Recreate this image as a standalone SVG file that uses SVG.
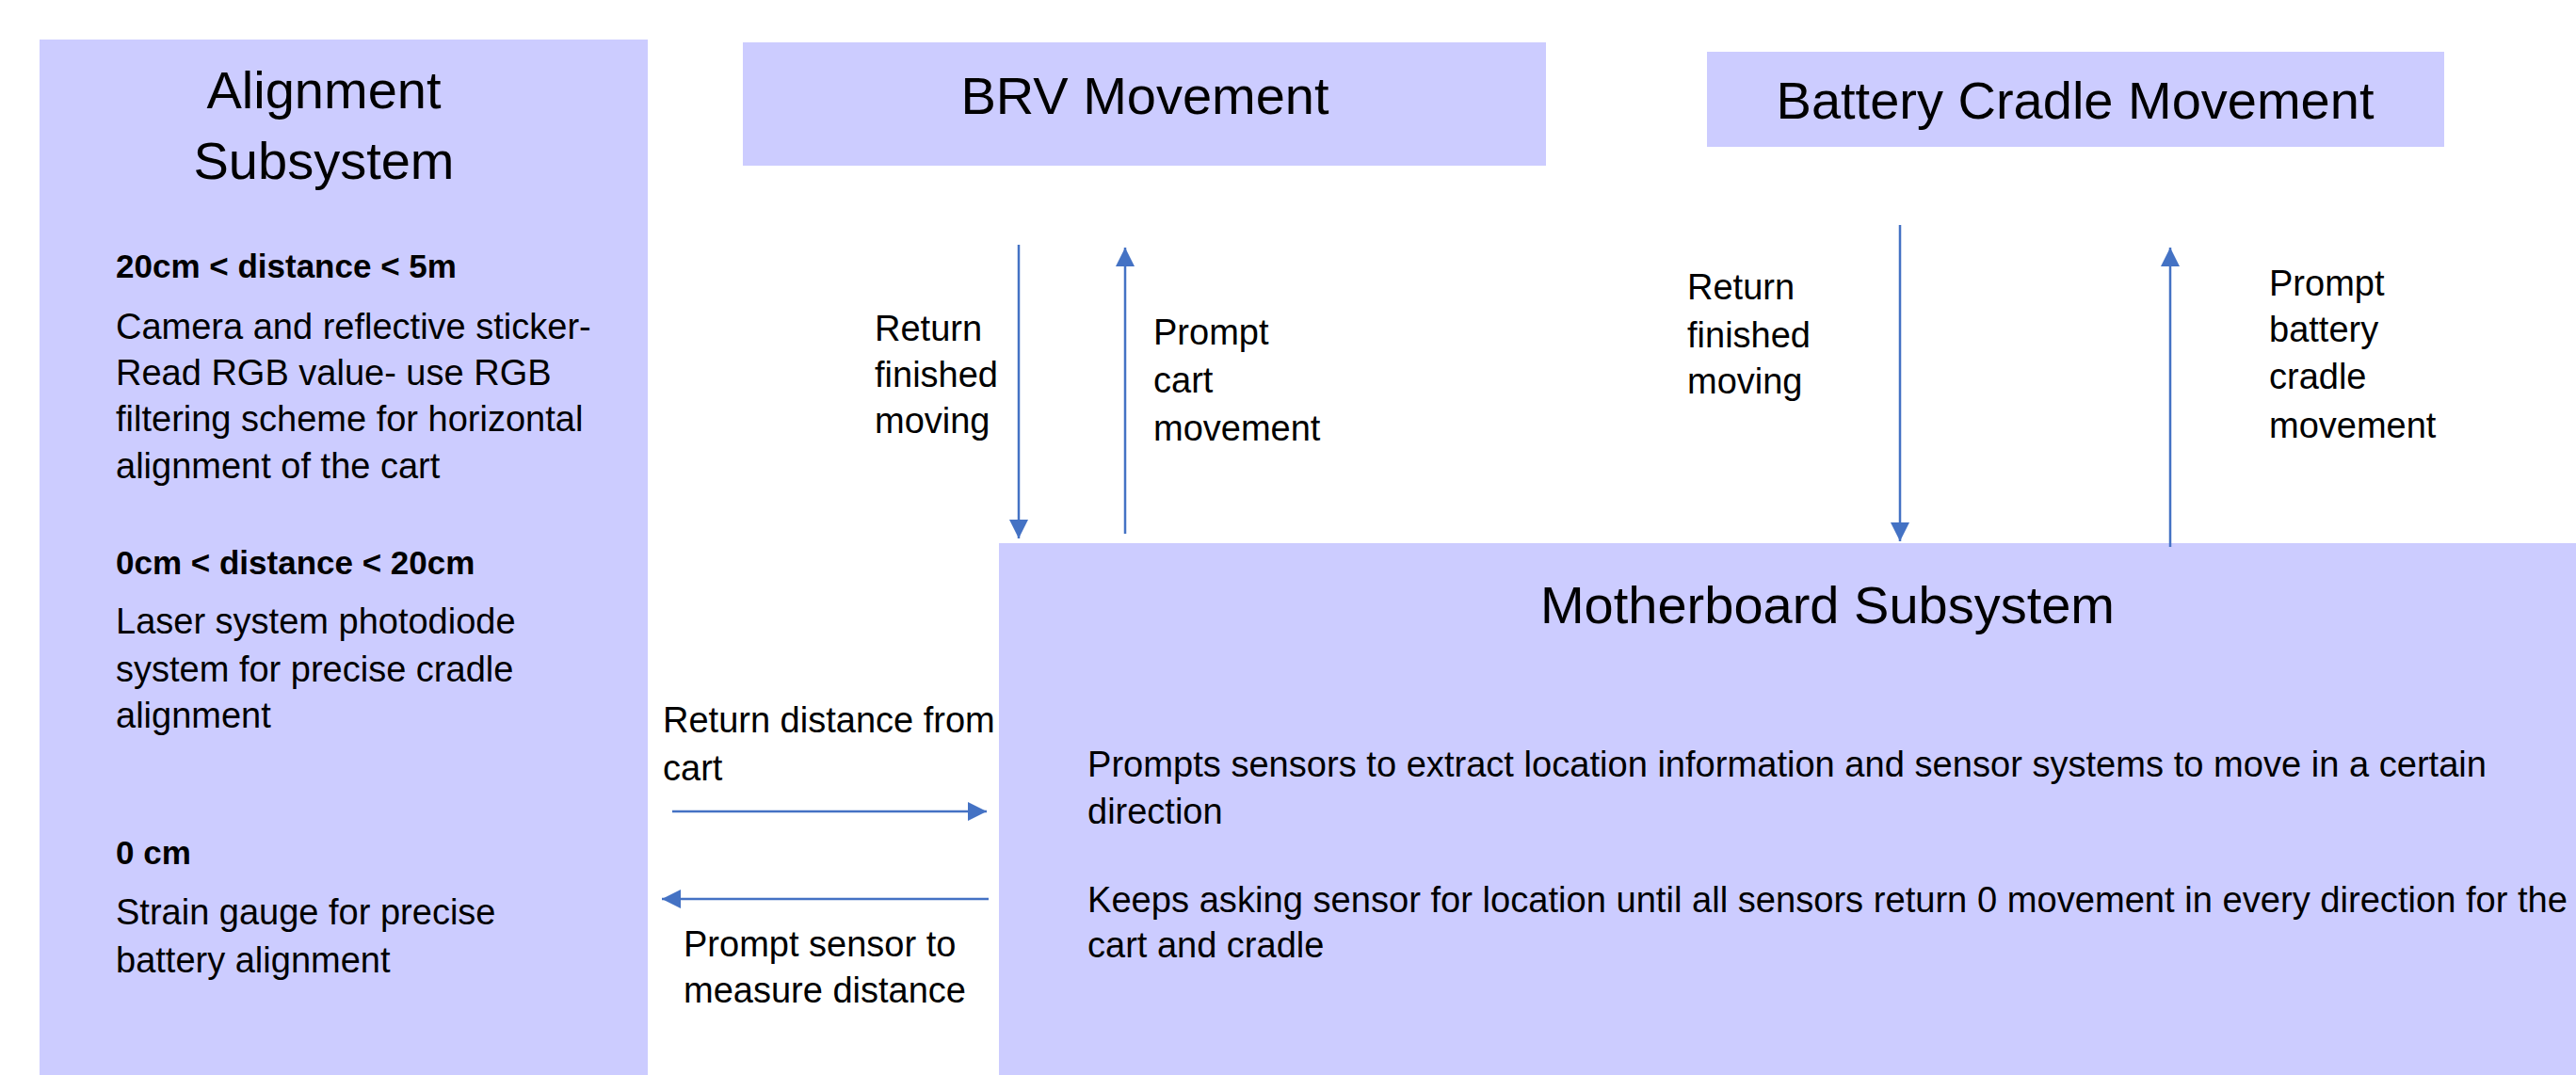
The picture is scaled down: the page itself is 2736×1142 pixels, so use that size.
<svg xmlns="http://www.w3.org/2000/svg" width="2736" height="1142" viewBox="0 0 2736 1142">
<defs>
<style>
.box{fill:#CCCCFF;}
.title{font-family:"Liberation Sans","Open Sans",sans-serif;font-size:56px;fill:#000;text-anchor:middle;}
.body{font-family:"Liberation Sans","Open Sans",sans-serif;font-size:38px;fill:#000;}
.bold{font-weight:bold;font-size:35px;}
.conn{stroke:#4472C4;stroke-width:2.5;fill:none;}
</style>
<marker id="ah" viewBox="0 0 10 10" refX="10" refY="5" markerUnits="userSpaceOnUse" markerWidth="20" markerHeight="21" orient="auto">
<path d="M0,0 L10,5 L0,10 Z" fill="#4472C4"/>
</marker>
</defs>
<rect width="2736" height="1142" fill="#FFFFFF"/>

<g id="alignment-subsystem">
<rect class="box" x="42" y="42" width="646" height="1100"/>
<text class="title" x="344" y="115">Alignment</text>
<text class="title" x="344" y="190">Subsystem</text>
<text class="body bold" x="123" y="295">20cm &lt; distance &lt; 5m</text>
<text class="body" x="123" y="360">Camera and reflective sticker-</text>
<text class="body" x="123" y="409">Read RGB value- use RGB</text>
<text class="body" x="123" y="458">filtering scheme for horizontal</text>
<text class="body" x="123" y="508">alignment of the cart</text>
<text class="body bold" x="123" y="610">0cm &lt; distance &lt; 20cm</text>
<text class="body" x="123" y="673">Laser system photodiode</text>
<text class="body" x="123" y="724">system for precise cradle</text>
<text class="body" x="123" y="773">alignment</text>
<text class="body bold" x="123" y="918">0 cm</text>
<text class="body" x="123" y="982">Strain gauge for precise</text>
<text class="body" x="123" y="1033">battery alignment</text>
</g>

<g id="brv-movement">
<rect class="box" x="789" y="45" width="853" height="131"/>
<text class="title" x="1216" y="121">BRV Movement</text>
</g>

<g id="battery-cradle-movement">
<rect class="box" x="1813" y="55" width="783" height="101"/>
<text class="title" x="2204" y="126">Battery Cradle Movement</text>
</g>

<g id="motherboard-subsystem">
<rect class="box" x="1061" y="577" width="1675" height="565"/>
<text class="title" x="1941" y="662">Motherboard Subsystem</text>
<text class="body" x="1155" y="825" textLength="1486" lengthAdjust="spacingAndGlyphs">Prompts sensors to extract location information and sensor systems to move in a certain</text>
<text class="body" x="1155" y="875">direction</text>
<text class="body" x="1155" y="969" textLength="1572" lengthAdjust="spacingAndGlyphs">Keeps asking sensor for location until all sensors return 0 movement in every direction for the</text>
<text class="body" x="1155" y="1017">cart and cradle</text>
</g>

<g id="connectors">
<line class="conn" x1="1082" y1="260" x2="1082" y2="572" marker-end="url(#ah)"/>
<line class="conn" x1="1195" y1="567" x2="1195" y2="263" marker-end="url(#ah)"/>
<line class="conn" x1="2018" y1="239" x2="2018" y2="575" marker-end="url(#ah)"/>
<line class="conn" x1="2305" y1="581" x2="2305" y2="263" marker-end="url(#ah)"/>
<line class="conn" x1="714" y1="862" x2="1048" y2="862" marker-end="url(#ah)"/>
<line class="conn" x1="1050" y1="955" x2="703" y2="955" marker-end="url(#ah)"/>
</g>

<g id="connector-labels">
<text class="body" x="929" y="362">Return</text>
<text class="body" x="929" y="411">finished</text>
<text class="body" x="929" y="460">moving</text>
<text class="body" x="1225" y="366">Prompt</text>
<text class="body" x="1225" y="417">cart</text>
<text class="body" x="1225" y="468">movement</text>
<text class="body" x="1792" y="318">Return</text>
<text class="body" x="1792" y="369">finished</text>
<text class="body" x="1792" y="418">moving</text>
<text class="body" x="2410" y="314">Prompt</text>
<text class="body" x="2410" y="363">battery</text>
<text class="body" x="2410" y="413">cradle</text>
<text class="body" x="2410" y="465">movement</text>
<text class="body" x="704" y="778">Return distance from</text>
<text class="body" x="704" y="829">cart</text>
<text class="body" x="726" y="1016">Prompt sensor to</text>
<text class="body" x="726" y="1065">measure distance</text>
</g>
</svg>
